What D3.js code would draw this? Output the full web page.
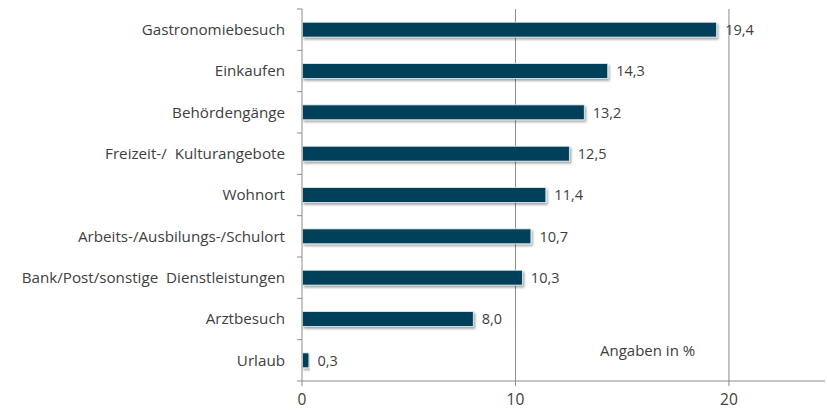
<!DOCTYPE html>
<html><head><meta charset="utf-8">
<script src="https://cdn.jsdelivr.net/npm/d3@7"></script>
<style>body{margin:0;background:#fff}svg{display:block}text{font-family:"Open Sans","Noto Sans",sans-serif}</style>
</head><body><svg id="c" width="827" height="414"></svg>
<script>
const categories = ["Gastronomiebesuch","Einkaufen","Behördengänge","Freizeit-/  Kulturangebote","Wohnort","Arbeits-/Ausbilungs-/Schulort","Bank/Post/sonstige  Dienstleistungen","Arztbesuch","Urlaub"];
const values = [19.4,14.3,13.2,12.5,11.4,10.7,10.3,8.0,0.3];
const valueLabels = ["19,4","14,3","13,2","12,5","11,4","10,7","10,3","8,0","0,3"];
const xTicks = [0,10,20];
const note = "Angaben in %";

(function(){
const svg = d3.select("#c");
const pl = 302, pr = 825, pt = 9, pb = 381;
const x = d3.scaleLinear().domain([0,24.5]).range([pl,pr]);
const y = d3.scaleBand().domain(categories).range([pt,pb]).paddingInner(0.64).paddingOuter(0.32);
const band = d3.scaleBand().domain(categories).range([pt,pb]);

svg.append("g").selectAll("line").data(xTicks.filter(d=>d>0)).join("line")
  .attr("x1",d=>x(d)).attr("x2",d=>x(d)).attr("y1",pt).attr("y2",pb)
  .attr("stroke","#8c8c8c").attr("stroke-width",1);

const defs = svg.append("defs");
const f = defs.append("filter").attr("id","sh").attr("x","-5%").attr("y","-30%").attr("width","115%").attr("height","190%");
f.append("feDropShadow").attr("dx",1.5).attr("dy",2).attr("stdDeviation",1).attr("flood-color","#000").attr("flood-opacity",0.35);

svg.append("g").selectAll("rect").data(values).join("rect")
  .attr("x",x(0)+0.5).attr("y",(d,i)=>y(categories[i]))
  .attr("width",d=>x(d)-x(0)).attr("height",y.bandwidth())
  .attr("fill","#023f59").attr("stroke","#e8eef2").attr("stroke-width",0.8)
  .attr("filter","url(#sh)");

svg.append("g").selectAll("text").data(values).join("text")
  .attr("x",d=>x(d)+9).attr("y",(d,i)=>y(categories[i])+y.bandwidth()/2)
  .attr("dy","0.36em").attr("font-size",14.5).attr("fill","#404040")
  .text((d,i)=>valueLabels[i]);

const gy = svg.append("g");
gy.append("line").attr("x1",pl).attr("x2",pl).attr("y1",pt).attr("y2",pb).attr("stroke","#8c8c8c");
gy.selectAll("line.t").data(d3.range(categories.length+1)).join("line").attr("class","t")
  .attr("x1",pl-5).attr("x2",pl).attr("y1",i=>pt+i*band.step()).attr("y2",i=>pt+i*band.step())
  .attr("stroke","#8c8c8c");
gy.selectAll("text").data(categories).join("text")
  .attr("x",pl-17).attr("y",d=>band(d)+band.bandwidth()/2).attr("dy","0.36em")
  .attr("text-anchor","end").attr("font-size",15.2).attr("fill","#404040")
  .style("white-space","pre").text(d=>d);

const gx = svg.append("g");
gx.append("line").attr("x1",pl).attr("x2",pr).attr("y1",pb).attr("y2",pb).attr("stroke","#8c8c8c");
gx.selectAll("line.t").data(xTicks).join("line").attr("class","t")
  .attr("x1",d=>x(d)).attr("x2",d=>x(d)).attr("y1",pb).attr("y2",pb+5).attr("stroke","#8c8c8c");
gx.selectAll("text").data(xTicks).join("text")
  .attr("x",d=>x(d)).attr("y",pb+24).attr("text-anchor","middle")
  .attr("font-size",15.5).attr("fill","#404040").text(d=>d);

svg.append("text").attr("x",600).attr("y",356).attr("font-size",15).attr("fill","#404040").text(note);
})();
</script></body></html>
